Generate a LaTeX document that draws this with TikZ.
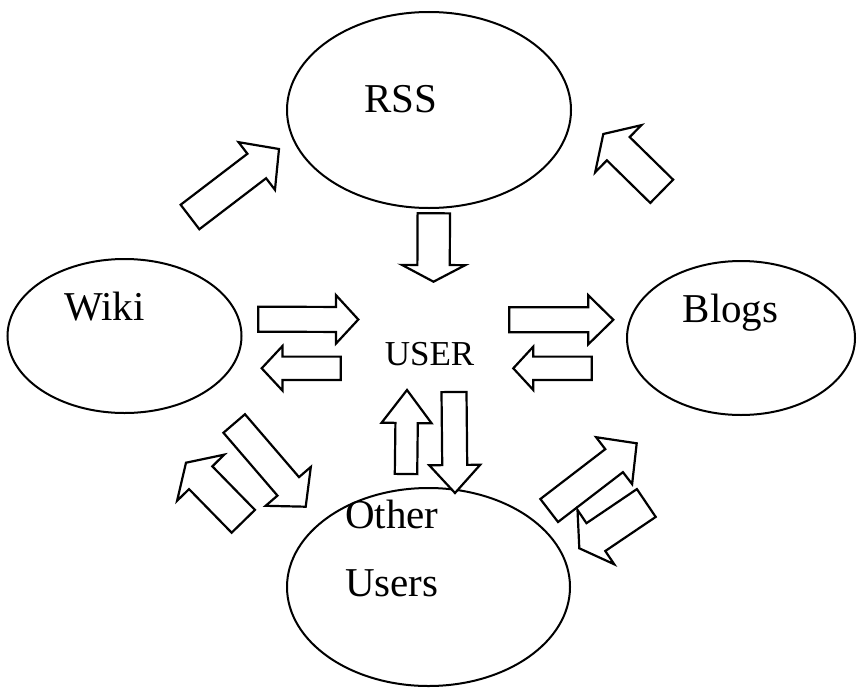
\documentclass[tikz,border=0pt]{standalone}
\usepackage{fontspec}
\setmainfont{Liberation Serif}
\usetikzlibrary{calc,shapes.geometric}

% hollow block arrow: name, tail centre, tip, half shaft width, half head width, head length
\newcommand\blockarrow[6]{%
  \coordinate (#1-t) at (#2);
  \coordinate (#1-h) at (#3);
  \coordinate (#1-n) at ($(#1-h)!#6!(#1-t)$);
  \draw[barrow]
    ($(#1-t)!#4!90:(#1-h)$) -- ($(#1-n)!#4!-90:(#1-t)$) --
    ($(#1-n)!#5!-90:(#1-t)$) -- (#1-h) --
    ($(#1-n)!#5!90:(#1-t)$) -- ($(#1-n)!#4!90:(#1-t)$) --
    ($(#1-t)!#4!-90:(#1-h)$) -- cycle;}

\tikzset{
  bubble/.style={ellipse, draw=black, line width=2pt, inner sep=0pt},
  barrow/.style={draw=black, fill=white, line width=2.2pt, line join=miter},
  big/.style={font=\fontsize{41}{49}\selectfont, inner sep=0pt, anchor=base},
  small/.style={font=\fontsize{35}{41}\selectfont, inner sep=0pt, anchor=base},
}

\begin{document}
\begin{tikzpicture}[x=1pt, y=-1pt]
\useasboundingbox (0,0) rectangle (861,693);

% the four sources
\node[bubble, minimum width=284pt, minimum height=196pt] (rss)   at (429,110) {};
\node[bubble, minimum width=234pt, minimum height=154pt] (wiki)  at (124.5,336) {};
\node[bubble, minimum width=228pt, minimum height=154pt] (blogs) at (741,338) {};
\node[bubble, minimum width=283pt, minimum height=198pt] (other) at (428.5,587) {};

% labels
\node[big] (rsslabel)   at (401,112) {RSS};
\node[big] (wikilabel)  at (104.5,320) {Wiki};
\node[big] (blogslabel) at (730.5,322) {Blogs};
\node[big, anchor=base west] (otherlabel) at (345,528) {Other};
\node[big, anchor=base west] (userslabel) at (345,596) {Users};
\node[small] (user) at (429.5,365) {USER};

% flows between the sources and the user
\blockarrow{a1}{190,217}{279,149}{15.4pt}{30pt}{28pt}
\blockarrow{a2}{661.7,191.3}{603.3,134}{16.3pt}{33pt}{21pt}
\blockarrow{a3}{433.8,213.3}{433.5,281.7}{16.2pt}{31.7pt}{16.7pt}
\blockarrow{a4}{258.3,319.2}{358.3,319.5}{12.5pt}{24.2pt}{22.3pt}
\blockarrow{a5}{340.7,368.3}{261.7,368.3}{11.7pt}{22.2pt}{20.7pt}
\blockarrow{a6}{509.3,319.8}{613.3,319.8}{12.5pt}{24.5pt}{25pt}
\blockarrow{a7}{591.7,368.3}{513.3,368.3}{11.7pt}{21.7pt}{20pt}
\blockarrow{a8}{406,474}{407,390}{11.2pt}{25pt}{33pt}
\blockarrow{a9}{454,392}{455,493}{12.5pt}{25.5pt}{28pt}
\blockarrow{a10}{234.2,423.5}{305.7,506.7}{14.2pt}{29.8pt}{26.8pt}
\blockarrow{a11}{243.3,521.3}{186,462.7}{16.3pt}{33pt}{21pt}
\blockarrow{a12}{549.2,510.5}{636.7,443.3}{14.5pt}{29.6pt}{28.5pt}
\blockarrow{a13}{646.3,503}{579.3,548.3}{16.8pt}{32.8pt}{20pt}
\end{tikzpicture}
\end{document}
